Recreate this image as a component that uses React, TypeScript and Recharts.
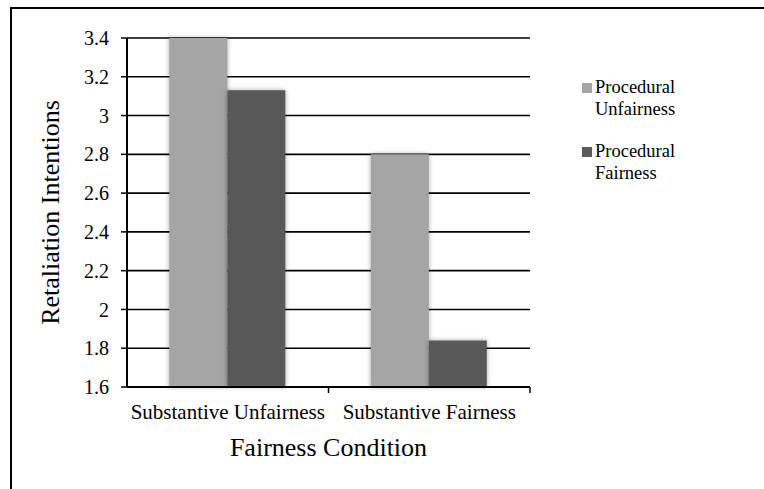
import React from 'react';
import { BarChart, Bar, XAxis, YAxis, CartesianGrid, Legend } from 'recharts';

const categories = ['Substantive Unfairness', 'Substantive Fairness'];
const proceduralUnfairness = [3.4, 2.8];
const proceduralFairness = [3.13, 1.84];
const yTicks = [1.6, 1.8, 2, 2.2, 2.4, 2.6, 2.8, 3, 3.2, 3.4];
const seriesNames = ['Procedural Unfairness', 'Procedural Fairness'];
const seriesColors = ['#A5A5A5', '#595959'];

const data = categories.map((c, i) => ({
  category: c,
  pu: proceduralUnfairness[i],
  pf: proceduralFairness[i],
}));

const FONT = '"Liberation Serif", "Times New Roman", serif';

function CategoryTick(props: any) {
  const { x, y, payload } = props;
  const off = payload && typeof payload.offset === 'number' ? payload.offset : 0;
  return (
    <g>
      <line x1={x + off} x2={x + off} y1={y} y2={y + 6} stroke="#000" strokeWidth={1.5} />
      <text x={x} y={y} dy={32} textAnchor="middle" fontFamily={FONT} fontSize={21} fill="#000">
        {payload.value}
      </text>
    </g>
  );
}

function LegendContent(props: any) {
  const payload: any[] = props.payload || [];
  const items = seriesNames
    .map((n) => payload.find((p) => p.value === n))
    .filter(Boolean);
  return (
    <div style={{ fontFamily: FONT, fontSize: 18.5, lineHeight: '22px', color: '#000' }}>
      {items.map((p: any, i: number) => (
        <div key={i} style={{ display: 'flex', alignItems: 'flex-start', marginBottom: 20 }}>
          <div
            style={{
              width: 10,
              height: 10,
              background: p.color,
              marginTop: 7,
              marginRight: 3,
              flexShrink: 0,
            }}
          />
          <div style={{ width: 98 }}>{p.value}</div>
        </div>
      ))}
    </div>
  );
}

export default function App() {
  return (
    <div
      style={{
        position: 'absolute',
        left: 0,
        top: 0,
        width: 764,
        height: 489,
        background: '#fff',
        overflow: 'hidden',
      }}
    >
      <style>{`.recharts-bar-rectangle { filter: drop-shadow(0 0 2.5px rgba(0,0,0,0.35)); }`}</style>
      <div
        style={{
          position: 'absolute',
          left: 10,
          top: 7,
          width: 800,
          height: 600,
          borderTop: '2px solid #000',
          borderLeft: '2px solid #000',
        }}
      />
      <div style={{ position: 'absolute', left: 0, top: 0 }}>
        <BarChart
          width={764}
          height={489}
          data={data}
          margin={{ top: 38, right: 234, bottom: 0, left: 0 }}
          barCategoryGap="21%"
          barGap={0}
        >
          <CartesianGrid vertical={false} stroke="#000" strokeWidth={1.6} />
          <XAxis
            dataKey="category"
            height={102}
            tickLine={false}
            tickSize={0}
            tickMargin={0}
            axisLine={{ stroke: '#000', strokeWidth: 2 }}
            tick={<CategoryTick />}
            interval={0}
            label={{
              value: 'Fairness Condition',
              position: 'insideBottom',
              offset: 33,
              fontSize: 26,
              fontFamily: FONT,
              fill: '#000',
            }}
          />
          <YAxis
            width={127}
            domain={[1.6, 3.4]}
            ticks={yTicks}
            interval={0}
            tickSize={6}
            tickMargin={12}
            axisLine={{ stroke: '#000', strokeWidth: 2 }}
            tickLine={{ stroke: '#000', strokeWidth: 1.5 }}
            tick={{ fontSize: 20, fontFamily: FONT, fill: '#000' }}
            label={{
              value: 'Retaliation Intentions',
              angle: -90,
              position: 'insideLeft',
              offset: 50,
              textAnchor: 'middle',
              fontSize: 26,
              fontFamily: FONT,
              fill: '#000',
            }}
          />
          <Legend
            layout="horizontal"
            verticalAlign="middle"
            align="center"
            content={<LegendContent />}
            wrapperStyle={{ left: 582, top: 76, width: 125 }}
          />
          <Bar dataKey="pu" name={seriesNames[0]} fill={seriesColors[0]} isAnimationActive={false} />
          <Bar dataKey="pf" name={seriesNames[1]} fill={seriesColors[1]} isAnimationActive={false} />
        </BarChart>
      </div>
    </div>
  );
}
